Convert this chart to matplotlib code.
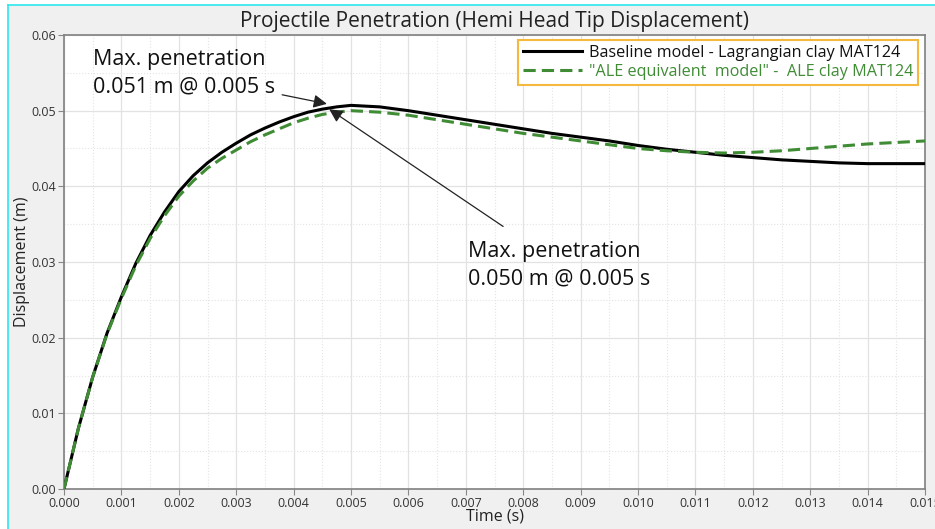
import numpy as np
import matplotlib.pyplot as plt
from matplotlib.patches import Rectangle
from matplotlib.lines import Line2D
from matplotlib.ticker import MultipleLocator, FormatStrFormatter

plt.rcParams['font.family'] = ['Open Sans', 'DejaVu Sans']

# time (s)
time_base = [0.0, 0.00025, 0.0005, 0.00075, 0.001, 0.00125, 0.0015, 0.00175, 0.002,
             0.00225, 0.0025, 0.00275, 0.003, 0.00325, 0.0035, 0.00375, 0.004,
             0.00425, 0.0045, 0.00475, 0.005, 0.0055, 0.006, 0.0065, 0.007, 0.0075,
             0.008, 0.0085, 0.009, 0.0095, 0.010, 0.0105, 0.011, 0.0115, 0.012,
             0.0125, 0.013, 0.0135, 0.014, 0.0145, 0.015]
time_ale = time_base

# displacement (m)
disp_base = [0.0, 0.0080, 0.0148, 0.0206, 0.0254, 0.0298, 0.0335, 0.0366, 0.0393,
             0.0414, 0.0431, 0.0445, 0.0457, 0.0468, 0.0477, 0.0485, 0.0492,
             0.0498, 0.0502, 0.0505, 0.0507, 0.0505, 0.0500, 0.0494, 0.0488, 0.0482,
             0.0476, 0.0470, 0.0465, 0.0460, 0.0454, 0.0449, 0.0445, 0.0441, 0.0438,
             0.0435, 0.0433, 0.0431, 0.0430, 0.0430, 0.0430]
disp_ale = [0.0, 0.0080, 0.0148, 0.0205, 0.0252, 0.0295, 0.0331, 0.0361, 0.0387,
            0.0407, 0.0424, 0.0437, 0.0448, 0.0459, 0.0468, 0.0476, 0.0484,
            0.0490, 0.0495, 0.0498, 0.0500, 0.0498, 0.0494, 0.0488, 0.0482, 0.0476,
            0.0470, 0.0465, 0.0460, 0.0455, 0.0450, 0.0447, 0.0445, 0.0444, 0.0445,
            0.0447, 0.0450, 0.0453, 0.0456, 0.0458, 0.0460]

label_base = 'Baseline model - Lagrangian clay MAT124'
label_ale = '"ALE equivalent  model" -  ALE clay MAT124'
note_base = 'Max. penetration\n0.051 m @ 0.005 s'
note_ale = 'Max. penetration\n0.050 m @ 0.005 s'

green = '#3f8c35'

fig = plt.figure(figsize=(9.35, 5.29), dpi=100)
fig.patch.set_facecolor('white')
# panel background with a cyan edge on the left and top
top = 1 - 5 / 529
left = 8 / 935
fig.patches.append(Rectangle((left, 0), 1 - left, top, transform=fig.transFigure,
                             facecolor='#f0f0f0', edgecolor='none', zorder=-10))
fig.lines.append(Line2D([left, left], [0, top], transform=fig.transFigure, color='#2ee6f0', lw=1.2))
fig.lines.append(Line2D([left, 1], [top, top], transform=fig.transFigure, color='#2ee6f0', lw=1.2))

ax = fig.add_axes([64 / 935, 1 - 489 / 529, (925 - 64) / 935, (489 - 35) / 529])
ax.set_facecolor('white')

ax.plot(time_base, disp_base, color='black', lw=2.2, label=label_base, zorder=3)
ax.plot(time_ale, disp_ale, color=green, lw=2.2, ls=(0, (4, 2)), label=label_ale, zorder=4)

ax.set_xlim(0, 0.015)
ax.set_ylim(0, 0.06)
ax.xaxis.set_major_locator(MultipleLocator(0.001))
ax.xaxis.set_minor_locator(MultipleLocator(0.0005))
ax.yaxis.set_major_locator(MultipleLocator(0.01))
ax.yaxis.set_minor_locator(MultipleLocator(0.005))
ax.xaxis.set_major_formatter(FormatStrFormatter('%.3f'))
ax.yaxis.set_major_formatter(FormatStrFormatter('%.2f'))
ax.grid(which='major', color='#e2e2e2', lw=0.9)
ax.grid(which='minor', color='#e4e4e4', lw=0.8, ls=':')
ax.set_axisbelow(True)
ax.tick_params(which='major', length=4, color='#888888', labelsize=9, labelcolor='#333333', pad=2)
ax.tick_params(which='minor', length=0)
for s in ax.spines.values():
    s.set_color('#808080')
    s.set_linewidth(1.2)

ax.set_title('Projectile Penetration (Hemi Head Tip Displacement)', fontsize=15, color='#222222', pad=6)
ax.set_xlabel('Time (s)', fontsize=11.5, color='#222222', labelpad=-1)
ax.set_ylabel('Displacement (m)', fontsize=11.5, color='#222222', labelpad=1)

# peak annotations
ax.text(0.000505, 0.0581, note_base, fontsize=15.5, va='top', ha='left', linespacing=1.4, color='#111111')
ax.text(0.00704, 0.0328, note_ale, fontsize=15.5, va='top', ha='left', linespacing=1.4, color='#111111')
arrow = dict(arrowstyle='-|>', color='#222222', lw=0.9, mutation_scale=20, shrinkA=0, shrinkB=0)
ax.annotate('', xy=(0.00458, 0.0509), xytext=(0.0038, 0.0521), arrowprops=arrow, zorder=6)
ax.annotate('', xy=(0.00462, 0.0502), xytext=(0.00765, 0.0347), arrowprops=arrow, zorder=6)

leg = ax.legend(loc='upper right', fontsize=11.6, frameon=True, fancybox=False,
                borderpad=0.3, handlelength=3.7, handletextpad=0.4, labelspacing=0.2,
                borderaxespad=0, bbox_to_anchor=(0.992, 0.989))
leg.get_frame().set_edgecolor('#f5b940')
leg.get_frame().set_linewidth(1.5)
leg.get_frame().set_alpha(1)
leg.get_texts()[0].set_color('#111111')
leg.get_texts()[1].set_color(green)

fig.savefig('out.png', dpi=100)
